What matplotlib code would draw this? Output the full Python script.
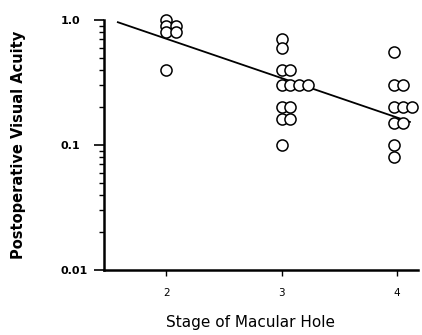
import matplotlib
matplotlib.use("Agg")
import matplotlib.pyplot as plt
import numpy as np

# data
stage_x = [2.0, 2.0, 2.08, 2.0, 2.08, 2.0,
           3.0, 3.0, 3.0, 3.07, 3.0, 3.07, 3.15, 3.23, 3.0, 3.07, 3.0, 3.07, 3.0,
           3.97, 3.97, 4.05, 3.97, 4.05, 4.13, 3.97, 4.05, 3.97, 3.97]
acuity = [1.0, 0.9, 0.9, 0.8, 0.8, 0.4,
          0.7, 0.6, 0.4, 0.4, 0.3, 0.3, 0.3, 0.3, 0.2, 0.2, 0.16, 0.16, 0.1,
          0.55, 0.3, 0.3, 0.2, 0.2, 0.2, 0.15, 0.15, 0.1, 0.08]
fit_x = [1.58, 4.11]
fit_y = [0.96, 0.153]
xticks = [2, 3, 4]
yticks = [0.01, 0.1, 1.0]
yticklabels = ["0.01", "0.1", "1.0"]

fig = plt.figure(figsize=(4.22, 3.35), dpi=100)
ax = fig.add_axes([104/422, 1-270/335, (418-104)/422, 250/335])
ax.set_yscale("log")
ax.set_xlim(1.46, 4.18)
ax.set_ylim(0.01, 1.0)

ax.plot(fit_x, fit_y, color="black", lw=1.3, zorder=2)
ax.plot(stage_x, acuity, linestyle="none", marker="o", markersize=8,
        markerfacecolor="white", markeredgecolor="black", markeredgewidth=1.1,
        clip_on=False, zorder=3)

for s in ["top", "right"]:
    ax.spines[s].set_visible(False)
for s in ["left", "bottom"]:
    ax.spines[s].set_linewidth(1.8)

ax.set_xticks(xticks)
ax.set_xticklabels([str(t) for t in xticks], fontsize=7.5)
ax.set_yticks(yticks)
ax.set_yticklabels(yticklabels, fontsize=8, fontweight="bold", ha="left")
ax.tick_params(axis="y", which="major", length=7, width=1.2, pad=24)
ax.tick_params(axis="y", which="minor", length=3.5, width=1.0)
ax.tick_params(axis="x", which="major", length=4, width=1.0, pad=9)
ax.xaxis.set_minor_locator(matplotlib.ticker.NullLocator())

ax.set_ylabel("Postoperative Visual Acuity", fontsize=10.5, fontweight="bold")
ax.yaxis.set_label_coords(-78/314, 0.5)
ax.set_xlabel("Stage of Macular Hole", fontsize=11)
ax.xaxis.set_label_coords((250-104)/314, -45/250)

fig.savefig("out.png", dpi=100)
